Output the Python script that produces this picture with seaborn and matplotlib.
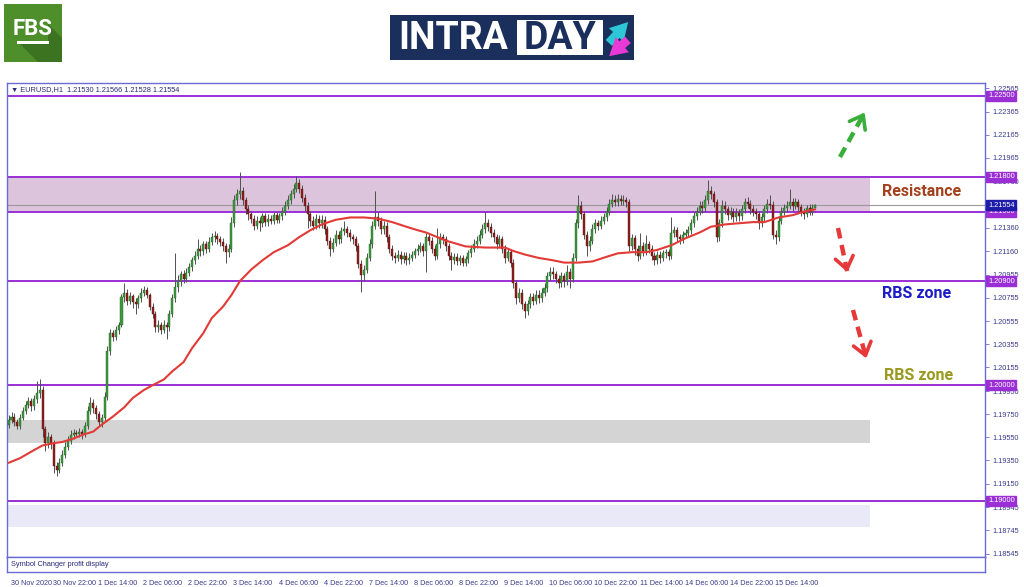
import numpy as np
import pandas as pd
import seaborn as sns
import matplotlib
matplotlib.use("Agg")
import matplotlib.pyplot as plt
import matplotlib.transforms as mtransforms
from matplotlib.patches import Rectangle, Polygon
from matplotlib.lines import Line2D

sns.set_style("white")
plt.rcParams['font.family'] = ['DejaVu Sans']

# ---------------- data (EURUSD H1) ----------------
first_open = 1.1966
closes = [
    1.1970,1.1973,1.1968,1.1965,1.1972,1.1978,1.1983,1.1986,1.1982,1.1988,
    1.1993,1.1996,1.1962,1.1950,1.1955,1.1950,1.1930,1.1927,1.1933,1.1940,
    1.1947,1.1952,1.1957,1.1959,1.1958,1.1960,1.1958,1.1965,1.1978,1.1985,
    1.1980,1.1975,1.1968,1.1972,1.1990,1.2030,1.2045,1.2042,1.2048,1.2052,
    1.2076,1.2080,1.2073,1.2077,1.2072,1.2070,1.2075,1.2080,1.2082,1.2078,
    1.2068,1.2062,1.2050,1.2052,1.2048,1.2052,1.2050,1.2062,1.2075,1.2085,
    1.2090,1.2096,1.2092,1.2097,1.2102,1.2108,1.2112,1.2118,1.2116,1.2122,
    1.2118,1.2124,1.2128,1.2129,1.2126,1.2124,1.2120,1.2115,1.2118,1.2140,
    1.2160,1.2165,1.2168,1.2160,1.2152,1.2148,1.2144,1.2138,1.2142,1.2140,
    1.2146,1.2141,1.2144,1.2142,1.2147,1.2143,1.2146,1.2150,1.2155,1.2160,
    1.2165,1.2170,1.2175,1.2170,1.2162,1.2155,1.2148,1.2142,1.2138,1.2144,
    1.2140,1.2143,1.2135,1.2125,1.2118,1.2123,1.2130,1.2126,1.2133,1.2135,
    1.2132,1.2128,1.2126,1.2120,1.2105,1.2095,1.2100,1.2110,1.2122,1.2138,
    1.2145,1.2142,1.2135,1.2138,1.2128,1.2118,1.2112,1.2110,1.2113,1.2109,
    1.2112,1.2108,1.2110,1.2113,1.2116,1.2118,1.2120,1.2116,1.2128,1.2125,
    1.2118,1.2112,1.2122,1.2128,1.2126,1.2120,1.2112,1.2108,1.2111,1.2107,
    1.2110,1.2106,1.2109,1.2114,1.2118,1.2122,1.2125,1.2130,1.2135,1.2140,
    1.2137,1.2132,1.2128,1.2122,1.2126,1.2118,1.2110,1.2115,1.2106,1.2088,
    1.2075,1.2080,1.2070,1.2064,1.2070,1.2076,1.2073,1.2078,1.2075,1.2080,
    1.2084,1.2094,1.2098,1.2096,1.2092,1.2088,1.2094,1.2090,1.2098,1.2092,
    1.2110,1.2140,1.2155,1.2148,1.2130,1.2120,1.2125,1.2135,1.2140,1.2138,
    1.2142,1.2145,1.2150,1.2157,1.2160,1.2158,1.2161,1.2159,1.2160,1.2158,
    1.2120,1.2127,1.2118,1.2112,1.2120,1.2116,1.2122,1.2118,1.2112,1.2108,
    1.2113,1.2110,1.2114,1.2115,1.2112,1.2132,1.2134,1.2128,1.2126,1.2130,
    1.2132,1.2134,1.2140,1.2146,1.2150,1.2155,1.2153,1.2160,1.2168,1.2165,
    1.2158,1.2128,1.2140,1.2155,1.2152,1.2147,1.2150,1.2145,1.2149,1.2146,
    1.2152,1.2158,1.2157,1.2152,1.2150,1.2148,1.2140,1.2145,1.2152,1.2157,
    1.2156,1.2130,1.2128,1.2142,1.2150,1.2153,1.2155,1.2158,1.2155,1.2158,
    1.2154,1.2150,1.2148,1.2153,1.2150,1.2153,1.21554]
highs = [
    1.1974,1.1977,1.1976,1.1971,1.1975,1.1981,1.1986,1.1990,1.1989,1.1992,
    1.2004,1.2005,1.1999,1.1965,1.1960,1.1958,1.1953,1.1934,1.1937,1.1944,
    1.1951,1.1956,1.1961,1.1962,1.1961,1.1963,1.1962,1.1968,1.1982,1.1990,
    1.1988,1.1983,1.1978,1.1975,1.1994,1.2034,1.2049,1.2048,1.2051,1.2055,
    1.2079,1.2088,1.2083,1.2081,1.2079,1.2075,1.2078,1.2084,1.2086,1.2085,
    1.2080,1.2071,1.2064,1.2056,1.2055,1.2056,1.2055,1.2065,1.2079,1.2114,
    1.2095,1.2099,1.2100,1.2101,1.2106,1.2111,1.2116,1.2126,1.2121,1.2125,
    1.2125,1.2128,1.2132,1.2133,1.2132,1.2129,1.2127,1.2123,1.2122,1.2145,
    1.2164,1.2170,1.2184,1.2171,1.2163,1.2156,1.2151,1.2147,1.2146,1.2145,
    1.2149,1.2149,1.2148,1.2147,1.2150,1.2150,1.2149,1.2154,1.2159,1.2164,
    1.2169,1.2174,1.2181,1.2178,1.2173,1.2165,1.2158,1.2151,1.2146,1.2148,
    1.2147,1.2147,1.2146,1.2138,1.2128,1.2127,1.2134,1.2133,1.2137,1.2142,
    1.2138,1.2135,1.2131,1.2129,1.2123,1.2108,1.2104,1.2114,1.2126,1.2142,
    1.2168,1.2150,1.2145,1.2142,1.2141,1.2131,1.2121,1.2115,1.2117,1.2116,
    1.2115,1.2115,1.2114,1.2116,1.2119,1.2122,1.2124,1.2123,1.2132,1.2132,
    1.2128,1.2121,1.2136,1.2132,1.2131,1.2129,1.2123,1.2115,1.2114,1.2114,
    1.2113,1.2113,1.2112,1.2117,1.2121,1.2126,1.2129,1.2134,1.2139,1.2150,
    1.2144,1.2140,1.2135,1.2131,1.2130,1.2129,1.2121,1.2119,1.2118,1.2109,
    1.2091,1.2084,1.2083,1.2073,1.2074,1.2080,1.2080,1.2082,1.2082,1.2084,
    1.2088,1.2098,1.2102,1.2102,1.2099,1.2095,1.2098,1.2097,1.2104,1.2101,
    1.2114,1.2144,1.2164,1.2159,1.2151,1.2133,1.2129,1.2139,1.2144,1.2143,
    1.2146,1.2149,1.2154,1.2161,1.2165,1.2164,1.2165,1.2164,1.2164,1.2163,
    1.2161,1.2131,1.2130,1.2121,1.2132,1.2124,1.2130,1.2125,1.2121,1.2115,
    1.2116,1.2116,1.2117,1.2118,1.2118,1.2145,1.2138,1.2137,1.2131,1.2133,
    1.2135,1.2138,1.2144,1.2150,1.2154,1.2159,1.2159,1.2164,1.2177,1.2172,
    1.2168,1.2161,1.2144,1.2160,1.2159,1.2155,1.2154,1.2153,1.2153,1.2152,
    1.2156,1.2162,1.2163,1.2160,1.2156,1.2153,1.2151,1.2149,1.2156,1.2161,
    1.2164,1.2159,1.2134,1.2146,1.2154,1.2157,1.2159,1.2170,1.2162,1.2162,
    1.2161,1.2157,1.2153,1.2156,1.2157,1.2157,1.21566]
lows = [
    1.1963,1.1967,1.1965,1.1962,1.1962,1.1970,1.1975,1.1980,1.1978,1.1979,
    1.1985,1.1989,1.1955,1.1943,1.1946,1.1945,1.1924,1.1922,1.1924,1.1930,
    1.1937,1.1944,1.1949,1.1954,1.1955,1.1955,1.1954,1.1955,1.1962,1.1975,
    1.1976,1.1971,1.1965,1.1964,1.1969,1.1987,1.2026,1.2038,1.2039,1.2044,
    1.2050,1.2072,1.2069,1.2070,1.2067,1.2062,1.2067,1.2072,1.2077,1.2075,
    1.2065,1.2058,1.2046,1.2046,1.2044,1.2045,1.2040,1.2047,1.2059,1.2072,
    1.2081,1.2086,1.2088,1.2089,1.2094,1.2099,1.2105,1.2109,1.2112,1.2113,
    1.2114,1.2115,1.2121,1.2124,1.2122,1.2120,1.2116,1.2106,1.2111,1.2115,
    1.2137,1.2156,1.2161,1.2156,1.2148,1.2143,1.2140,1.2134,1.2135,1.2133,
    1.2137,1.2138,1.2138,1.2139,1.2139,1.2140,1.2140,1.2143,1.2147,1.2152,
    1.2157,1.2162,1.2167,1.2166,1.2158,1.2151,1.2136,1.2138,1.2134,1.2135,
    1.2136,1.2136,1.2131,1.2121,1.2112,1.2115,1.2120,1.2122,1.2123,1.2130,
    1.2128,1.2125,1.2122,1.2116,1.2101,1.2081,1.2090,1.2097,1.2107,1.2119,
    1.2135,1.2138,1.2131,1.2131,1.2124,1.2114,1.2108,1.2106,1.2107,1.2105,
    1.2106,1.2104,1.2105,1.2107,1.2110,1.2113,1.2115,1.2112,1.2098,1.2121,
    1.2114,1.2108,1.2109,1.2119,1.2122,1.2116,1.2108,1.2100,1.2105,1.2104,
    1.2104,1.2103,1.2103,1.2106,1.2111,1.2115,1.2119,1.2122,1.2127,1.2132,
    1.2133,1.2128,1.2124,1.2118,1.2119,1.2114,1.2106,1.2107,1.2102,1.2084,
    1.2070,1.2072,1.2066,1.2058,1.2061,1.2067,1.2069,1.2070,1.2071,1.2072,
    1.2077,1.2081,1.2091,1.2092,1.2088,1.2084,1.2085,1.2085,1.2087,1.2084,
    1.2089,1.2107,1.2136,1.2144,1.2126,1.2112,1.2116,1.2122,1.2132,1.2134,
    1.2135,1.2139,1.2142,1.2147,1.2154,1.2155,1.2155,1.2156,1.2156,1.2154,
    1.2116,1.2117,1.2113,1.2107,1.2109,1.2112,1.2113,1.2114,1.2108,1.2104,
    1.2105,1.2106,1.2107,1.2110,1.2108,1.2109,1.2128,1.2124,1.2122,1.2123,
    1.2127,1.2129,1.2131,1.2137,1.2143,1.2147,1.2149,1.2150,1.2157,1.2161,
    1.2154,1.2124,1.2125,1.2137,1.2148,1.2143,1.2144,1.2141,1.2142,1.2142,
    1.2143,1.2149,1.2153,1.2148,1.2146,1.2144,1.2135,1.2137,1.2142,1.2149,
    1.2152,1.2126,1.2122,1.2125,1.2139,1.2147,1.2150,1.2152,1.2151,1.2152,
    1.2150,1.2146,1.2144,1.2145,1.2147,1.2147,1.21528]

# moving average (read at sampled bars)
ma_bar = [0,4,9,12,16,19,23,26,30,33,37,41,44,48,51,55,58,62,65,69,72,76,79,82,86,90,
          94,99,103,107,111,116,121,126,131,136,141,145,148,155,162,169,176,179,183,
          188,193,197,202,207,212,216,221,226,230,235,240,245,249,254,259,264,268,
          273,278,282,286]
ma_val = [1.1933,1.1937,1.1944,1.1948,1.1950,1.1951,1.1954,1.1957,1.1960,1.1966,1.1973,
          1.1981,1.1989,1.1996,1.2000,1.2005,1.2012,1.2020,1.2032,1.2045,1.2058,1.2068,
          1.2078,1.2090,1.2100,1.2108,1.2115,1.2121,1.2128,1.2134,1.2139,1.2143,1.2145,
          1.2145,1.2144,1.2141,1.2137,1.2134,1.2132,1.2125,1.2120,1.2119,1.2119,1.2116,
          1.2113,1.2110,1.2108,1.2106,1.2106,1.2107,1.2111,1.2114,1.2115,1.2115,1.2117,
          1.2121,1.2127,1.2132,1.2137,1.2139,1.2140,1.2141,1.2141,1.2145,1.2147,1.2150,
          1.2152]

level_lines = [1.22500, 1.21800, 1.21500, 1.20900, 1.20000, 1.19000]
current_price = 1.21554
resistance_zone = (1.21500, 1.21800)
grey_zone = (1.19500, 1.19700)
lavender_zone = (1.18775, 1.18965)

ytick_vals = [1.22565,1.22365,1.22165,1.21965,1.21760,1.21360,1.21160,1.20955,
              1.20755,1.20555,1.20355,1.20155,1.19950,1.19750,1.19550,1.19350,1.19150,
              1.18945,1.18745,1.18545]
xtick_bars = [0,15,31,47,63,79,95,111,127,143,159,175,191,207,223,239,255,271]
xtick_labels = ["30 Nov 2020","30 Nov 22:00","1 Dec 14:00","2 Dec 06:00","2 Dec 22:00",
                "3 Dec 14:00","4 Dec 06:00","4 Dec 22:00","7 Dec 14:00","8 Dec 06:00",
                "8 Dec 22:00","9 Dec 14:00","10 Dec 06:00","10 Dec 22:00","11 Dec 14:00",
                "14 Dec 06:00","14 Dec 22:00","15 Dec 14:00"]
header = "\u25bc EURUSD,H1  1.21530 1.21566 1.21528 1.21554"

n = len(closes)
assert len(highs) == n and len(lows) == n
df = pd.DataFrame({"bar": np.arange(n), "close": closes, "high": highs, "low": lows})
df["open"] = [first_open] + closes[:-1]
df.loc[n - 1, "open"] = 1.21530

# ---------------- figure ----------------
W, H = 1024, 587
fig = plt.figure(figsize=(W / 100, H / 100), dpi=100)
fig.patch.set_facecolor("white")
PX = mtransforms.Affine2D().scale(0.01, -0.01).translate(0, H / 100) + fig.dpi_scale_trans

def fbox(x0, y0, x1, y1):
    return [x0 / W, 1 - y1 / H, (x1 - x0) / W, (y1 - y0) / H]

frame_col = "#6b6bd6"
purple = "#9b2fd6"
tick_col = "#3a3a8a"
small_font = "Liberation Sans"

ax = fig.add_axes(fbox(7, 83, 985, 557))
ax2 = fig.add_axes(fbox(7, 557, 985, 572))

# zones
ax.axhspan(*resistance_zone, xmin=0, xmax=0.882, color="#dcc4dc", zorder=0.5, lw=0)
ax.axhspan(*grey_zone, xmin=0, xmax=0.882, color="#d4d4d4", zorder=0.5, lw=0)
ax.axhspan(*lavender_zone, xmin=0, xmax=0.882, color="#e9e9f7", zorder=0.5, lw=0)

# current price line
ax.axhline(current_price, color="#9a9a9a", lw=0.8, zorder=1)

# level lines
for lv in level_lines:
    ax.axhline(lv, color=purple, lw=1.4, zorder=1.2)

# candles
bull = df["close"] >= df["open"]
ax.vlines(df["bar"], df["low"], df["high"], color="#505050", lw=0.7, zorder=2)
body_lo = np.minimum(df["open"], df["close"])
body_h = np.maximum(np.abs(df["close"] - df["open"]), 0.00003)
ax.bar(df["bar"][bull], body_h[bull], bottom=body_lo[bull], width=0.72,
       color="#3f9a3f", edgecolor="#1f5f1f", lw=0.3, zorder=3)
ax.bar(df["bar"][~bull], body_h[~bull], bottom=body_lo[~bull], width=0.72,
       color="#8e1e1e", edgecolor="#5a1010", lw=0.3, zorder=3)

# moving average
sns.lineplot(x=ma_bar, y=ma_val, ax=ax, color="#e23a36", lw=1.5, zorder=4)

ax.set_xlim(-0.6, 346.2)
ax.set_ylim(1.18516, 1.22612)
ax.set_xticks([])
ax.yaxis.tick_right()
ax.set_yticks(ytick_vals)
ax.set_yticklabels([f"{v:.5f}" for v in ytick_vals], family=small_font)
ax.tick_params(axis="y", which="both", right=True, length=3, width=0.6, color=frame_col,
               labelsize=5.3, labelcolor=tick_col, pad=2, direction="out")
ax.set_ylabel("")
ax.set_xlabel("")
for s in ax.spines.values():
    s.set_color(frame_col)
    s.set_linewidth(1.0)

# right-axis boxed labels
bt = mtransforms.blended_transform_factory(ax.transAxes, ax.transData)
for lv in level_lines:
    ax.text(1.003, lv, f"{lv:.5f}", transform=bt, fontsize=5.3, color="white",
            family=small_font, va="center", ha="left", clip_on=False, zorder=20,
            bbox=dict(boxstyle="square,pad=0.2", fc=purple, ec=purple))
ax.text(1.003, current_price, f"{current_price:.5f}", transform=bt, fontsize=5.3,
        family=small_font, color="white", va="center", ha="left", clip_on=False, zorder=21,
        bbox=dict(boxstyle="square,pad=0.2", fc="#1c1ca8", ec="#1c1ca8"))

# header
ax.text(0.004, 0.987, header, transform=ax.transAxes, fontsize=5.3, color="#2a2a7a",
        family=["Liberation Sans", "DejaVu Sans"], va="center", ha="left")

# sub window
ax2.set_xlim(-0.6, 346.2)
ax2.set_ylim(0, 1)
ax2.set_yticks([])
ax2.set_xticks(xtick_bars)
ax2.set_xticklabels(xtick_labels, family=small_font)
ax2.tick_params(axis="x", length=4, width=0.6, color=frame_col, labelsize=5.2,
                labelcolor=tick_col, pad=1.5, direction="out")
off = mtransforms.ScaledTranslation(2 / 100, 0, fig.dpi_scale_trans)
for lbl in ax2.get_xticklabels():
    lbl.set_ha("left")
    lbl.set_transform(lbl.get_transform() + off)
for s in ax2.spines.values():
    s.set_color(frame_col)
    s.set_linewidth(1.0)
ax2.text(0.004, 0.5, "Symbol Changer profit display", transform=ax2.transAxes,
         fontsize=5.3, family=small_font, color="#2a2a7a", va="center", ha="left")

# annotations
fig.text(922, 192, "Resistance", transform=PX, fontsize=11.5, fontweight="bold",
         family="Roboto", color="#a2411c", ha="center", va="center")
fig.text(917, 293, "RBS zone", transform=PX, fontsize=11.5, fontweight="bold",
         family="Roboto", color="#1c1cc8", ha="center", va="center")
fig.text(919, 375, "RBS zone", transform=PX, fontsize=11.5, fontweight="bold",
         family="Roboto", color="#9a9a22", ha="center", va="center")

def dashed_arrow(x0, y0, x1, y1, col):
    v = np.array([x1 - x0, y1 - y0], float)
    L = np.hypot(*v)
    u = v / L
    xe, ye = x1 - u[0] * 4, y1 - u[1] * 4
    fig.add_artist(Line2D([x0, xe], [y0, ye], transform=PX, color=col, lw=3.2,
                          linestyle=(0, (2.4, 1.5)), solid_capstyle="butt"))
    fig.add_artist(matplotlib.patches.FancyArrowPatch(
        (x1 - u[0] * 10, y1 - u[1] * 10), (x1, y1), transform=PX,
        arrowstyle="->,head_length=3.5,head_width=2.6", color=col, lw=2.6,
        mutation_scale=2.5))

dashed_arrow(840, 157, 866, 110, "#3aae3a")
dashed_arrow(838, 228, 848, 275, "#e6393a")
dashed_arrow(853, 310, 867, 361, "#e6393a")

# FBS logo
fig.add_artist(Rectangle((4, 4), 58, 58, transform=PX, color="#4e8f2c", lw=0))
fig.add_artist(Polygon([(20, 44), (48, 44), (48, 24), (62, 38), (62, 62), (38, 62)],
                       closed=True, transform=PX, color="#3b7320", lw=0))
fig.text(33, 29, "FBS", transform=PX, fontsize=16, fontweight="bold", family="Roboto",
         color="white", ha="center", va="center")
fig.add_artist(Rectangle((17, 41), 32, 3, transform=PX, color="white", lw=0))

# INTRADAY logo
fig.add_artist(Rectangle((390, 15), 244, 45, transform=PX, color="#1b2f5c", lw=0))
fig.add_artist(Rectangle((517, 20), 86, 35, transform=PX, color="white", lw=0))
fig.text(398, 38.5, "INTRA", transform=PX, fontsize=27, fontweight="bold", family="Roboto",
         color="white", ha="left", va="center")
fig.text(560, 38.5, "DAY", transform=PX, fontsize=27, fontweight="bold", family="Roboto",
         color="#1b2f5c", ha="center", va="center")
fig.add_artist(matplotlib.patches.FancyArrowPatch((607, 45), (630, 20), transform=PX,
               arrowstyle="simple,head_length=1.4,head_width=1.6,tail_width=0.7",
               mutation_scale=9, color="#2cc6d6", lw=0))
fig.add_artist(matplotlib.patches.FancyArrowPatch((630, 38), (607, 58), transform=PX,
               arrowstyle="simple,head_length=1.4,head_width=1.6,tail_width=0.7",
               mutation_scale=9, color="#e83ad6", lw=0))

fig.savefig("out.png", dpi=100, facecolor="white")
